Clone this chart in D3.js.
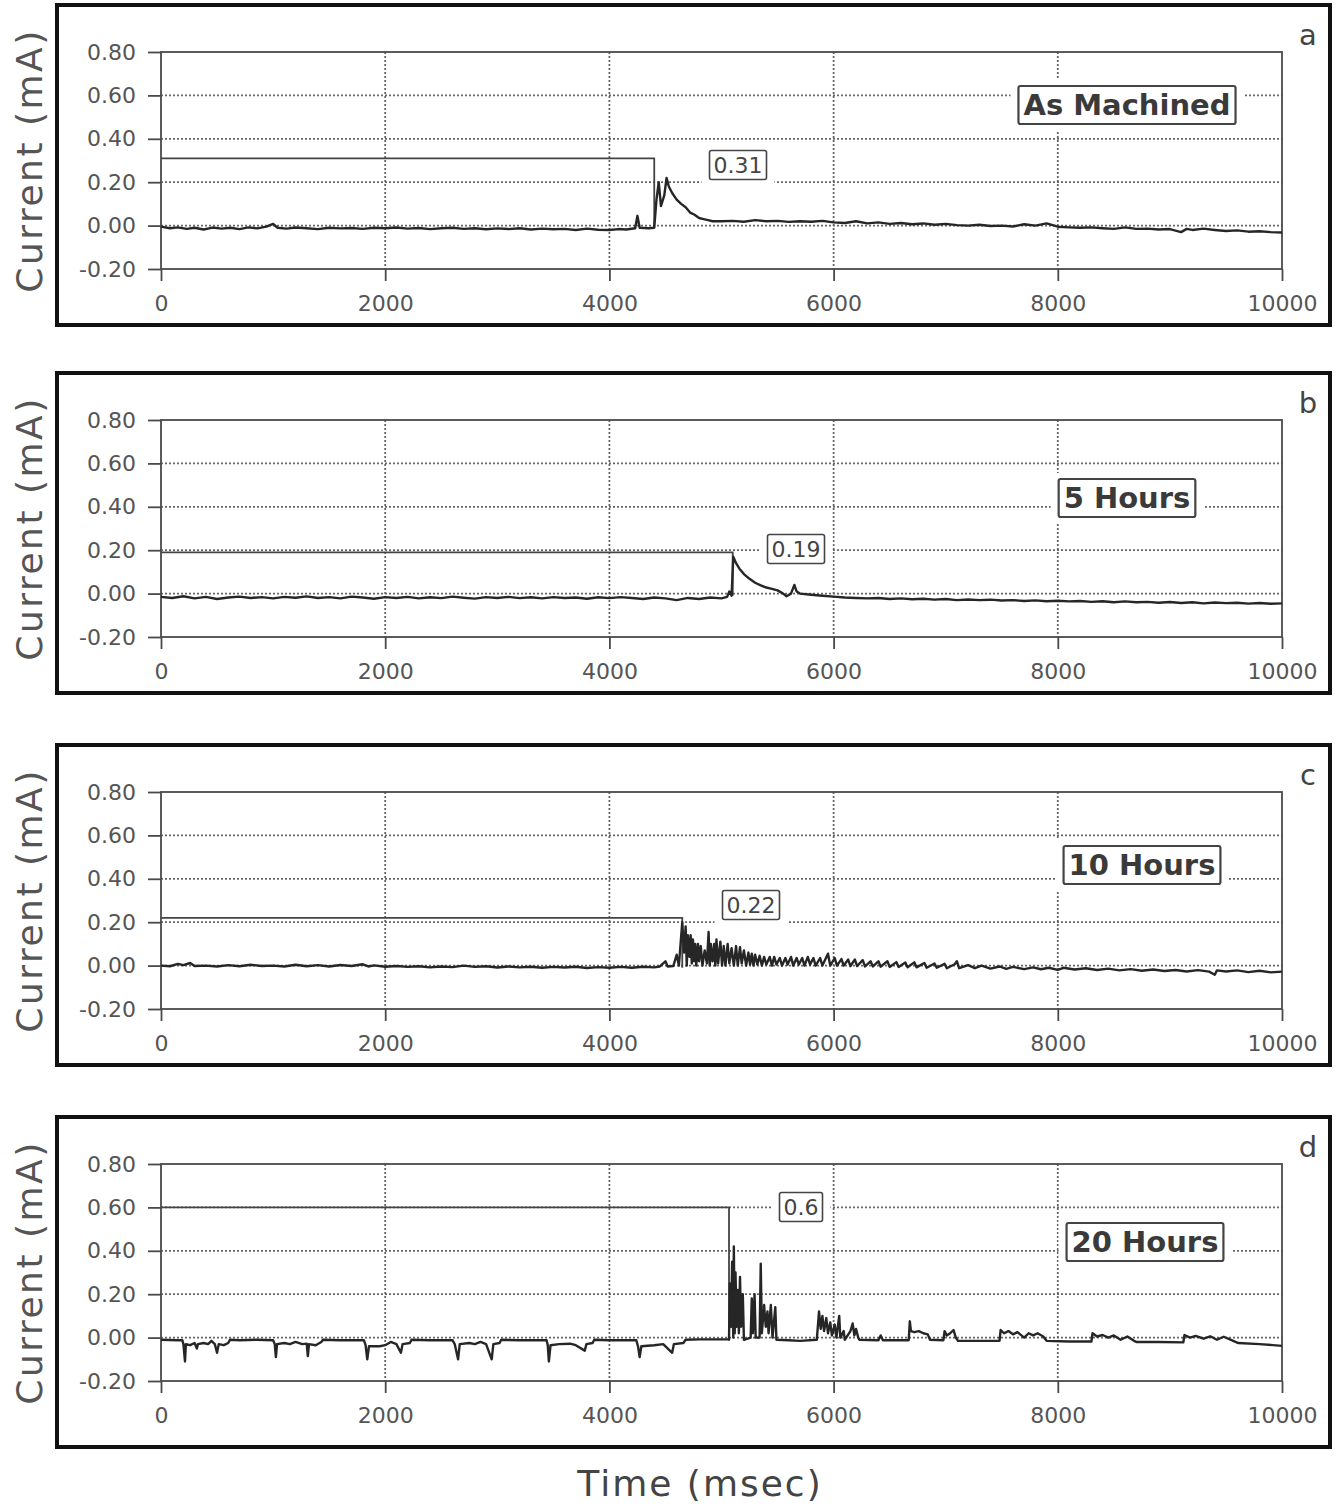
<!DOCTYPE html>
<html>
<head>
<meta charset="utf-8">
<script src="https://cdn.jsdelivr.net/npm/d3@7"></script>
<style>
  body { margin: 0; background: #fff; }
  text { font-family: "DejaVu Sans", Verdana, sans-serif; }
</style>
</head>
<body>
<script>
/* global d3 */

// ---- data ----
const yTicks = [-0.2, 0, 0.2, 0.4, 0.6, 0.8]
const xTicks = [0, 2000, 4000, 6000, 8000, 10000]
const titles = ['As Machined', '5 Hours', '10 Hours', '20 Hours']
const letters = ['a', 'b', 'c', 'd']
const peakLabels = ['0.31', '0.19', '0.22', '0.6']
const peakLevels = [0.31, 0.19, 0.22, 0.6]
const peakTimes = [4400, 5100, 4650, 5067]

// [time msec, current mA]
const traceA = [[0,-0.005],[80,-0.012],[150,-0.008],[230,-0.015],[300,-0.01],[380,-0.018],[460,-0.009],[540,-0.014],[620,-0.01],[700,-0.016],[780,-0.008],[860,-0.013],[940,-0.005],[1000,0.008],[1040,-0.01],[1120,-0.014],[1200,-0.009],[1300,-0.012],[1400,-0.016],[1500,-0.01],[1600,-0.013],[1700,-0.011],[1800,-0.015],[1900,-0.01],[2000,-0.012],[2100,-0.009],[2200,-0.014],[2300,-0.011],[2400,-0.016],[2500,-0.012],[2600,-0.01],[2700,-0.015],[2800,-0.012],[2900,-0.017],[3000,-0.013],[3100,-0.016],[3200,-0.012],[3300,-0.018],[3400,-0.014],[3500,-0.017],[3600,-0.015],[3700,-0.02],[3800,-0.014],[3900,-0.019],[4000,-0.02],[4080,-0.016],[4150,-0.018],[4230,-0.012],[4250,0.045],[4270,-0.01],[4350,-0.012],[4400,-0.01],[4420,0.12],[4440,0.2],[4460,0.09],[4490,0.14],[4510,0.22],[4530,0.18],[4560,0.15],[4600,0.12],[4640,0.1],[4680,0.085],[4720,0.06],[4760,0.05],[4800,0.035],[4840,0.03],[4880,0.025],[4920,0.02],[5000,0.02],[5100,0.022],[5200,0.018],[5300,0.025],[5400,0.02],[5500,0.022],[5600,0.017],[5700,0.02],[5800,0.018],[5900,0.022],[6000,0.015],[6100,0.012],[6200,0.02],[6300,0.01],[6400,0.015],[6500,0.008],[6600,0.012],[6700,0.006],[6800,0.01],[6900,0.004],[7000,0.008],[7100,0.002],[7200,0.0],[7300,0.004],[7400,-0.002],[7500,0.0],[7600,-0.004],[7700,0.006],[7800,0.0],[7900,0.01],[8000,-0.005],[8100,-0.008],[8200,-0.01],[8300,-0.008],[8400,-0.012],[8500,-0.015],[8600,-0.008],[8700,-0.015],[8800,-0.014],[8900,-0.018],[9000,-0.016],[9100,-0.03],[9150,-0.015],[9200,-0.02],[9300,-0.014],[9400,-0.02],[9500,-0.025],[9600,-0.022],[9700,-0.028],[9800,-0.026],[9900,-0.03],[10000,-0.032]]

const traceB = [[0,-0.015],[100,-0.02],[200,-0.012],[300,-0.022],[400,-0.015],[500,-0.025],[600,-0.018],[700,-0.014],[800,-0.02],[900,-0.016],[1000,-0.022],[1100,-0.015],[1200,-0.019],[1300,-0.013],[1400,-0.02],[1500,-0.016],[1600,-0.022],[1700,-0.014],[1800,-0.018],[1900,-0.024],[2000,-0.016],[2100,-0.02],[2200,-0.015],[2300,-0.022],[2400,-0.017],[2500,-0.021],[2600,-0.014],[2700,-0.019],[2800,-0.023],[2900,-0.016],[3000,-0.02],[3100,-0.015],[3200,-0.021],[3300,-0.017],[3400,-0.022],[3500,-0.016],[3600,-0.02],[3700,-0.018],[3800,-0.024],[3900,-0.017],[4000,-0.021],[4100,-0.016],[4200,-0.02],[4300,-0.025],[4400,-0.018],[4500,-0.022],[4600,-0.03],[4700,-0.02],[4800,-0.025],[4900,-0.018],[5000,-0.022],[5050,-0.015],[5070,0.01],[5090,-0.01],[5105,0.17],[5130,0.14],[5160,0.115],[5200,0.09],[5250,0.068],[5300,0.05],[5350,0.038],[5400,0.028],[5450,0.022],[5500,0.015],[5550,0.0],[5580,-0.012],[5620,0.0],[5650,0.04],[5670,0.01],[5700,0.0],[5800,-0.005],[5900,-0.01],[6000,-0.014],[6100,-0.018],[6200,-0.02],[6300,-0.022],[6400,-0.02],[6500,-0.025],[6600,-0.022],[6700,-0.026],[6800,-0.024],[6900,-0.028],[7000,-0.025],[7100,-0.03],[7200,-0.027],[7300,-0.03],[7400,-0.028],[7500,-0.032],[7600,-0.03],[7700,-0.034],[7800,-0.031],[7900,-0.035],[8000,-0.033],[8100,-0.036],[8200,-0.034],[8300,-0.038],[8400,-0.035],[8500,-0.04],[8600,-0.036],[8700,-0.04],[8800,-0.038],[8900,-0.042],[9000,-0.039],[9100,-0.043],[9200,-0.04],[9300,-0.045],[9400,-0.041],[9500,-0.044],[9600,-0.042],[9700,-0.046],[9800,-0.043],[9900,-0.047],[10000,-0.045]]

const traceC = [[0,0.0],[80,-0.003],[150,0.008],[200,0.002],[260,0.012],[300,-0.002],[400,0.0],[500,-0.004],[600,0.002],[700,-0.003],[800,0.004],[900,-0.002],[1000,0.0],[1100,-0.004],[1200,0.004],[1300,-0.003],[1400,0.002],[1500,-0.004],[1600,0.003],[1700,-0.002],[1800,0.006],[1850,-0.004],[1900,0.001],[2000,-0.005],[2100,-0.002],[2200,-0.006],[2300,-0.003],[2400,-0.008],[2500,-0.004],[2600,-0.007],[2700,0.0],[2800,-0.006],[2900,-0.003],[3000,-0.009],[3100,-0.004],[3200,-0.008],[3300,-0.005],[3400,-0.01],[3500,-0.006],[3600,-0.009],[3700,-0.005],[3800,-0.011],[3900,-0.007],[4000,-0.01],[4100,-0.006],[4200,-0.01],[4300,-0.005],[4400,-0.008],[4450,-0.004],[4500,0.02],[4520,-0.004],[4570,-0.002],[4600,0.05],[4620,0.0],[4650,0.2],[4665,0.06],[4680,0.18],[4690,0.0],[4700,0.14],[4715,0.04],[4725,0.14],[4735,0.01],[4745,0.12],[4755,0.02],[4765,0.1],[4775,0.0],[4790,0.1],[4800,0.02],[4815,0.09],[4830,0.0],[4850,0.07],[4870,0.01],[4885,0.155],[4895,0.0],[4905,0.1],[4920,0.02],[4935,0.1],[4945,0.0],[4955,0.12],[4970,0.01],[4990,0.11],[5005,0.0],[5020,0.09],[5035,0.0],[5055,0.1],[5070,0.01],[5090,0.08],[5110,0.0],[5130,0.09],[5145,0.0],[5165,0.085],[5180,0.01],[5200,0.07],[5220,0.0],[5240,0.06],[5255,0.005],[5270,0.055],[5285,0.0],[5300,0.05],[5320,0.005],[5340,0.045],[5360,0.0],[5380,0.04],[5400,0.005],[5430,0.04],[5450,0.0],[5470,0.04],[5490,0.005],[5520,0.035],[5540,0.0],[5570,0.035],[5590,0.005],[5620,0.04],[5640,0.0],[5670,0.035],[5690,0.005],[5720,0.035],[5740,0.0],[5770,0.04],[5790,0.005],[5820,0.035],[5840,0.0],[5880,0.035],[5900,0.0],[5950,0.055],[5970,0.0],[6010,0.035],[6030,0.0],[6070,0.03],[6090,0.0],[6130,0.028],[6150,-0.002],[6190,0.028],[6210,-0.002],[6260,0.025],[6280,-0.004],[6330,0.02],[6350,-0.004],[6400,0.02],[6420,-0.005],[6480,0.02],[6500,-0.006],[6560,0.016],[6580,-0.006],[6640,0.014],[6660,-0.008],[6720,0.015],[6740,-0.008],[6810,0.012],[6830,-0.01],[6900,0.01],[6920,-0.01],[6990,0.008],[7010,-0.012],[7080,0.006],[7100,0.02],[7120,-0.012],[7200,0.002],[7260,-0.012],[7320,0.0],[7400,-0.014],[7480,-0.004],[7540,-0.015],[7600,-0.006],[7700,-0.016],[7780,-0.008],[7850,-0.017],[7920,-0.01],[8000,-0.02],[8050,-0.01],[8150,-0.018],[8250,-0.012],[8350,-0.02],[8450,-0.014],[8550,-0.022],[8650,-0.016],[8750,-0.024],[8850,-0.018],[8950,-0.025],[9050,-0.02],[9150,-0.027],[9250,-0.021],[9350,-0.028],[9400,-0.042],[9420,-0.022],[9500,-0.027],[9600,-0.022],[9700,-0.03],[9800,-0.024],[9900,-0.031],[10000,-0.028]]

const traceD = [[0,-0.01],[150,-0.012],[190,-0.012],[200,-0.03],[214,-0.11],[222,-0.03],[260,-0.035],[300,-0.025],[320,-0.05],[330,-0.03],[380,-0.025],[420,-0.03],[450,-0.015],[480,-0.03],[500,-0.07],[515,-0.03],[560,-0.035],[600,-0.025],[615,-0.01],[700,-0.012],[850,-0.01],[1000,-0.012],[1015,-0.03],[1025,-0.09],[1035,-0.03],[1100,-0.025],[1150,-0.03],[1200,-0.02],[1260,-0.03],[1300,-0.028],[1310,-0.085],[1320,-0.03],[1380,-0.035],[1430,-0.02],[1445,-0.01],[1600,-0.012],[1810,-0.012],[1825,-0.035],[1840,-0.1],[1855,-0.04],[1950,-0.04],[2000,-0.035],[2050,-0.02],[2100,-0.03],[2140,-0.07],[2155,-0.03],[2220,-0.025],[2235,-0.01],[2400,-0.012],[2600,-0.012],[2620,-0.03],[2650,-0.1],[2665,-0.03],[2750,-0.025],[2800,-0.03],[2850,-0.02],[2900,-0.03],[2950,-0.1],[2965,-0.03],[3020,-0.025],[3035,-0.01],[3200,-0.012],[3440,-0.012],[3450,-0.035],[3460,-0.11],[3475,-0.035],[3550,-0.03],[3650,-0.028],[3700,-0.035],[3780,-0.06],[3795,-0.03],[3850,-0.025],[3865,-0.01],[4000,-0.012],[4240,-0.012],[4255,-0.04],[4270,-0.09],[4285,-0.04],[4400,-0.035],[4480,-0.03],[4560,-0.07],[4575,-0.03],[4660,-0.025],[4680,-0.01],[4800,-0.008],[5060,-0.008],[5067,-0.01],[5075,0.25],[5085,0.05],[5095,0.35],[5105,0.0],[5110,0.42],[5118,0.02],[5125,0.3],[5135,0.05],[5145,0.22],[5155,0.02],[5165,0.28],[5175,0.05],[5190,0.2],[5200,-0.01],[5260,0.0],[5270,0.18],[5280,0.02],[5295,0.2],[5305,0.0],[5340,0.0],[5350,0.34],[5360,0.02],[5380,0.15],[5395,0.05],[5410,0.12],[5420,0.02],[5440,0.15],[5455,0.0],[5480,0.14],[5490,-0.01],[5600,-0.012],[5700,-0.015],[5850,-0.01],[5870,0.12],[5885,0.04],[5900,0.1],[5915,0.03],[5935,0.09],[5950,0.02],[5970,0.07],[5985,0.01],[6010,0.06],[6025,0.0],[6050,0.1],[6060,0.0],[6090,0.03],[6100,-0.01],[6150,0.03],[6170,0.065],[6185,0.01],[6200,0.04],[6220,0.0],[6230,-0.01],[6400,-0.012],[6420,0.01],[6440,-0.012],[6670,-0.012],[6680,0.075],[6690,0.03],[6720,0.025],[6760,0.03],[6800,0.02],[6840,0.015],[6860,-0.01],[6980,-0.012],[6990,0.03],[7010,0.01],[7040,0.02],[7070,0.035],[7090,0.0],[7110,-0.015],[7300,-0.015],[7480,-0.015],[7490,0.035],[7520,0.02],[7560,0.03],[7600,0.015],[7640,0.025],[7700,0.0],[7740,0.02],[7780,0.01],[7820,0.02],[7870,0.005],[7900,-0.015],[8100,-0.018],[8300,-0.018],[8310,0.02],[8350,0.005],[8400,0.012],[8450,0.0],[8500,0.01],[8560,-0.01],[8620,0.005],[8680,-0.015],[8700,-0.02],[8900,-0.02],[9120,-0.022],[9130,0.012],[9180,0.0],[9230,0.008],[9300,-0.005],[9360,0.006],[9420,-0.01],[9480,0.004],[9550,-0.012],[9610,-0.025],[9800,-0.03],[10000,-0.038]]

const traces = [traceA, traceB, traceC, traceD]

// ---- layout ----
const W = 1338, H = 1507
const panelTop = [5, 373, 745, 1117]
const panelH = [320, 320, 320, 330]
const plotLeft = 161, plotRight = 1282
const plotOff = 47, plotH = 217
// title box centres (x, y relative to panel top), value box centres
const titlePos = [[1127, 100], [1127, 125], [1142, 120], [1145, 125]]
const valuePos = [[738, 160], [796, 176], [751, 160], [801, 90]]

const svg = d3.select('body').append('svg')
  .attr('width', W)
  .attr('height', H)

const x = d3.scaleLinear().domain([0, 10000]).range([plotLeft, plotRight])

// plain hyphen for negatives, like the original
const fmtY = d => d3.format('.2f')(d).replace('\u2212', '-')

function boxedText (g, cx, cy, str, size, bold, pad) {
  const grp = g.append('g')
  const t = grp.append('text')
    .attr('x', cx).attr('y', cy)
    .attr('text-anchor', 'middle')
    .attr('dominant-baseline', 'central')
    .attr('font-size', size)
    .attr('font-weight', bold ? 'bold' : 'normal')
    .attr('fill', bold ? '#3a3a3a' : '#444')
    .text(str)
  const bb = t.node().getBBox()
  grp.insert('rect', 'text')
    .attr('x', bb.x - pad - 8).attr('y', bb.y - 8)
    .attr('width', bb.width + 2 * pad + 16).attr('height', bb.height + 16)
    .attr('fill', '#fff')
  grp.insert('rect', 'text')
    .attr('x', bb.x - pad).attr('y', bb.y - 2)
    .attr('width', bb.width + 2 * pad).attr('height', bb.height + 4)
    .attr('fill', '#fff')
    .attr('stroke', '#444')
    .attr('stroke-width', bold ? 2.2 : 1.6)
    .attr('rx', 2)
}

traces.forEach((trace, i) => {
  const top = panelTop[i]
  const g = svg.append('g')

  // heavy outer frame
  g.append('rect')
    .attr('x', 57).attr('y', top)
    .attr('width', 1273).attr('height', panelH[i])
    .attr('fill', 'none')
    .attr('stroke', '#111')
    .attr('stroke-width', 4)

  const y = d3.scaleLinear().domain([-0.2, 0.8]).range([top + plotOff + plotH, top + plotOff])

  // dotted grid
  g.selectAll('.hg').data(yTicks.filter(v => v > -0.2 && v < 0.8)).enter()
    .append('line')
    .attr('x1', plotLeft).attr('x2', plotRight)
    .attr('y1', d => y(d)).attr('y2', d => y(d))
    .attr('stroke', '#666').attr('stroke-width', 1.8)
    .attr('stroke-dasharray', '2,2')
  g.selectAll('.vg').data(xTicks.filter(v => v > 0 && v < 10000)).enter()
    .append('line')
    .attr('x1', d => x(d)).attr('x2', d => x(d))
    .attr('y1', y(0.8)).attr('y2', y(-0.2))
    .attr('stroke', '#666').attr('stroke-width', 1.8)
    .attr('stroke-dasharray', '2,2')

  // plot box
  g.append('rect')
    .attr('x', plotLeft).attr('y', y(0.8))
    .attr('width', plotRight - plotLeft).attr('height', plotH)
    .attr('fill', 'none')
    .attr('stroke', '#4a4a4a')
    .attr('stroke-width', 1.8)

  // axes
  const yAxis = d3.axisLeft(y).tickValues(yTicks).tickSize(13).tickPadding(12)
    .tickFormat(fmtY)
  const ya = g.append('g').attr('transform', `translate(${plotLeft},0)`).call(yAxis)
  const xAxis = d3.axisBottom(x).tickValues(xTicks).tickSize(12).tickPadding(14)
    .tickFormat(d3.format('d'))
  const xa = g.append('g').attr('transform', `translate(0,${y(-0.2)})`).call(xAxis)
  ;[ya, xa].forEach(a => {
    a.select('.domain').remove()
    a.selectAll('line').attr('stroke', '#4a4a4a').attr('stroke-width', 1.8)
    a.selectAll('text')
      .attr('font-family', '"DejaVu Sans", sans-serif')
      .attr('font-size', 22)
      .attr('fill', '#555')
  })

  // y title
  g.append('text')
    .attr('transform', `translate(42,${top + plotOff + plotH / 2}) rotate(-90)`)
    .attr('text-anchor', 'middle')
    .attr('font-size', 36)
    .attr('letter-spacing', 2.5)
    .attr('fill', '#555')
    .text('Current (mA)')

  // peak marker: level line then drop
  g.append('path')
    .attr('d', d3.line()([
      [x(0), y(peakLevels[i])],
      [x(peakTimes[i]), y(peakLevels[i])],
      [x(peakTimes[i]), y(-0.01)]
    ]))
    .attr('fill', 'none')
    .attr('stroke', '#444')
    .attr('stroke-width', 1.8)

  // trace
  g.append('path')
    .datum(trace)
    .attr('d', d3.line().x(d => x(d[0])).y(d => y(d[1])))
    .attr('fill', 'none')
    .attr('stroke', '#262626')
    .attr('stroke-width', 2.4)
    .attr('stroke-linejoin', 'round')

  boxedText(g, valuePos[i][0], top + valuePos[i][1], peakLabels[i], 22, false, 4)
  boxedText(g, titlePos[i][0], top + titlePos[i][1], titles[i], 29, true, 5)

  g.append('text')
    .attr('x', 1308).attr('y', top + 40)
    .attr('text-anchor', 'middle')
    .attr('font-size', 29)
    .attr('fill', '#444')
    .text(letters[i])
})

svg.append('text')
  .attr('x', 700).attr('y', 1496)
  .attr('text-anchor', 'middle')
  .attr('font-size', 36)
  .attr('letter-spacing', 2)
  .attr('fill', '#444')
  .text('Time (msec)')
</script>
</body>
</html>
